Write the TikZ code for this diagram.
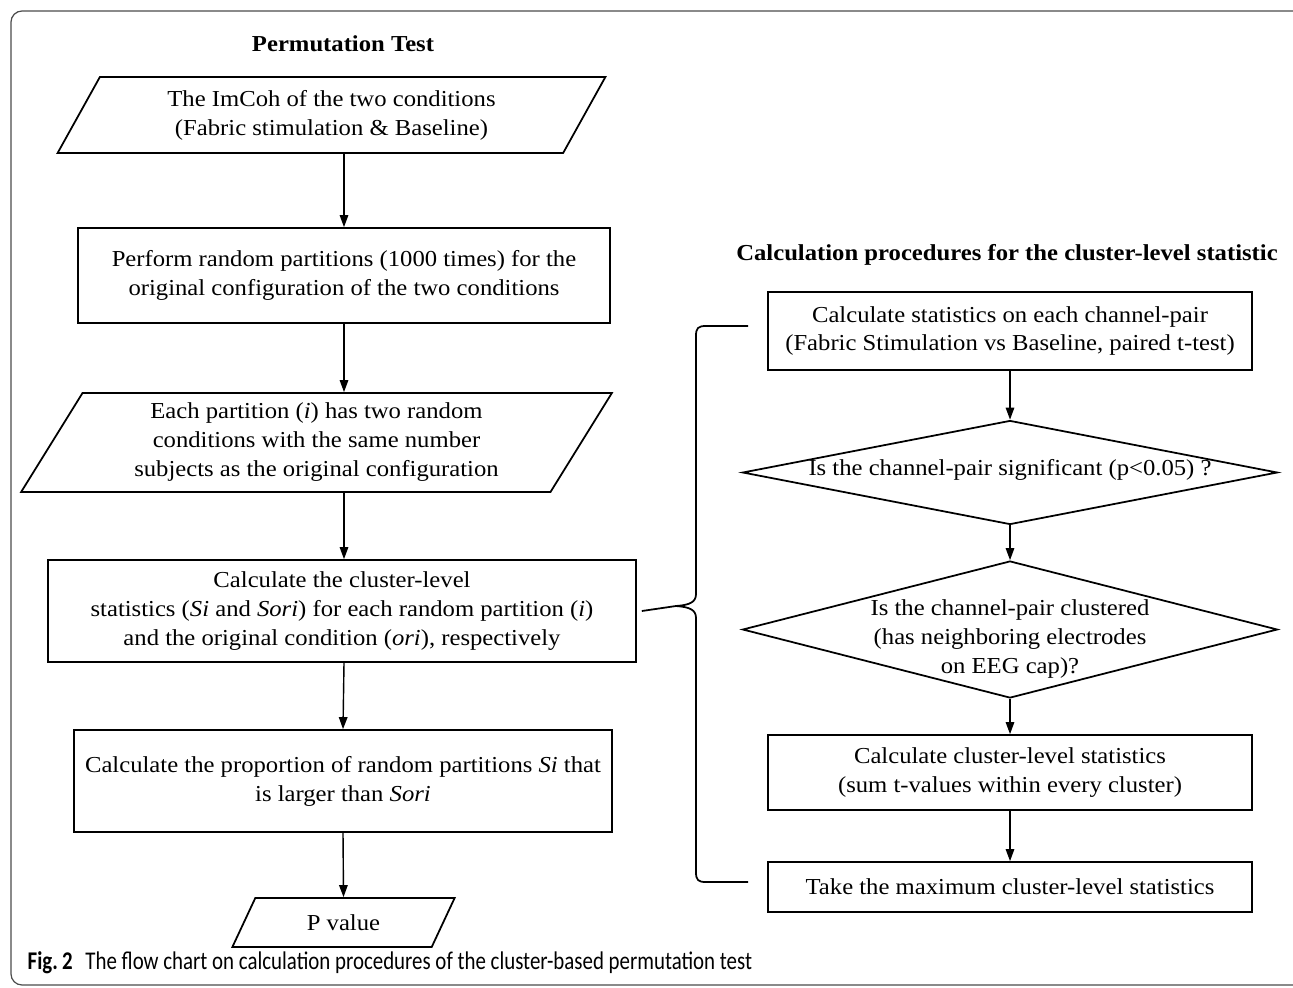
\documentclass[tikz,border=0pt]{standalone}
\usepackage{fontspec}
\setmainfont[FakeStretch=1.08]{Liberation Serif}
\newfontfamily\capfont[FakeStretch=0.82]{Carlito}
\usetikzlibrary{arrows.meta, positioning, shapes.geometric}

\newcommand\bodyfont{\fontsize{13}{16.5}\selectfont}

\begin{document}
\begin{tikzpicture}[
    x=0.02cm, y=-0.02cm,
    ->,
    >={Triangle[length=2.4mm, width=1.7mm]},
    line width=0.8pt,
    font=\bodyfont,
    proc/.style={rectangle, draw, line width=1pt, align=center, inner sep=2pt},
    io/.style={trapezium, trapezium stretches=true, draw, line width=1pt, align=center, inner sep=1pt},
    decision/.style={diamond, draw, line width=1pt, inner sep=0pt},
    heading/.style={font=\bodyfont\bfseries},
]
    \useasboundingbox (0,0) rectangle (1293,987);
    \draw[-, gray!60!black, line width=0.7pt, rounded corners=0.22cm] (11,11) rectangle (1310,985);

    % permutation test
    \node[heading] (ptitle) at (343,44) {Permutation Test};

    \node[io, trapezium left angle=60.5, trapezium right angle=119.5,
          minimum width=10.98cm, minimum height=1.52cm] (P1) at (331.5,115)
          {The ImCoh of the two conditions\\(Fabric stimulation \& Baseline)};
    \node[proc, minimum width=10.64cm, minimum height=1.9cm] (B2) at (344,275.5)
          {Perform random partitions (1000 times) for the\\original configuration of the two conditions};
    \node[io, trapezium left angle=59.6, trapezium right angle=120.4,
          minimum width=11.86cm, minimum height=1.98cm] (P3) at (316.5,442.5)
          {Each partition (\textit{i}) has two random\\conditions with the same number\\subjects as the original configuration};
    \node[proc, minimum width=11.76cm, minimum height=2.04cm] (B4) at (342,611)
          {Calculate the cluster-level\\statistics (\textit{Si} and \textit{Sori}) for each random partition (\textit{i})\\and the original condition (\textit{ori}), respectively};
    \node[proc, minimum width=10.76cm, minimum height=2.04cm] (B5) at (343,781)
          {Calculate the proportion of random partitions \textit{Si} that\\is larger than \textit{Sori}};
    \node[io, trapezium left angle=63, trapezium right angle=117,
          minimum width=4.46cm, minimum height=0.98cm] (P6) at (343.5,922.5)
          {P value};

    % cluster-level statistic
    \node[heading] (ctitle) at (1007,255) {Calculation procedures for the cluster-level statistic};

    \node[proc, minimum width=9.68cm, minimum height=1.56cm] (R1) at (1010,331)
          {Calculate statistics on each channel-pair\\(Fabric Stimulation vs Baseline, paired t-test)};
    \node[decision, minimum width=10.7cm, minimum height=2.08cm] (D1) at (1010,472.5) {};
    \node (D1t) at (1010,470) {Is the channel-pair significant (p<0.05) ?};
    \node[decision, minimum width=10.7cm, minimum height=2.74cm] (D2) at (1010,629.5) {};
    \node[align=center] (D2t) at (1010,639) {Is the channel-pair clustered\\(has neighboring electrodes\\on EEG cap)?};
    \node[proc, minimum width=9.68cm, minimum height=1.5cm] (R2) at (1010,772.5)
          {Calculate cluster-level statistics\\(sum t-values within every cluster)};
    \node[proc, minimum width=9.68cm, minimum height=1cm] (R3) at (1010,887)
          {Take the maximum cluster-level statistics};

    \path
        (P1.south -| B2) edge (B2.north)
        (B2.south)       edge (P3.north -| B2)
        (P3.south -| B2) edge (B4.north -| B2)
        (B4.south -| B2) edge (B5.north)
        (B5.south)       edge (P6.north)
        (R1.south) edge (D1.north)
        (D1.south) edge (D2.north)
        (D2.south) edge (R2.north)
        (R2.south) edge (R3.north)
    ;

    % brace
    \coordinate (btop) at (748,326);
    \coordinate (bbot) at (748,882);
    \coordinate (btip) at ([xshift=0.1cm]B4.east);
    \draw[-, line width=1pt]
        (btop) -- (706,326) .. controls (698,326) and (696,328) .. (696,336)
        -- (696,594) .. controls (696,602) and (690,605) .. (676,606) -- (btip)
        (676,606) .. controls (690,607) and (696,610) .. (696,618)
        -- (696,872) .. controls (696,880) and (698,882) .. (706,882) -- (bbot);

    \node[anchor=base west, inner sep=0pt, font=\capfont\fontsize{14.5}{16}\selectfont] (cap) at (27,969)
        {\textbf{Fig.\,2}\enspace The flow chart on calculation procedures of the cluster-based permutation test};
\end{tikzpicture}
\end{document}
